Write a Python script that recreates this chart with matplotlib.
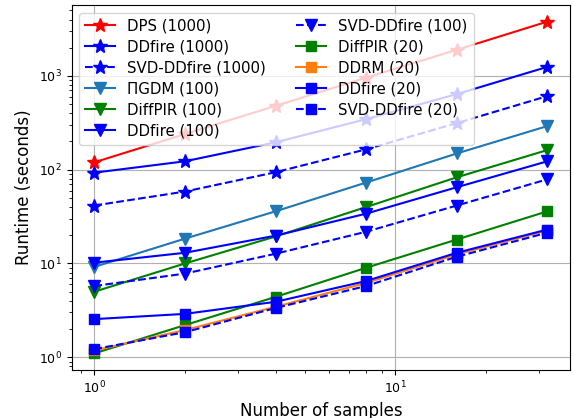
import matplotlib
matplotlib.use('Agg')
import matplotlib.pyplot as plt

# numero de muestras
n_samples = [1, 2, 4, 8, 16, 32]

# tiempos (segundos)
dps_1000 = [120, 240, 480, 960, 1900, 3800]
ddfire_1000 = [93, 123, 196, 346, 640, 1250]
svd_ddfire_1000 = [41.5, 58.5, 94, 165, 314, 610]
pigdm_100 = [9.2, 18.4, 36, 73, 149, 292]
diffpir_100 = [5.0, 10, 19.4, 40, 83, 162]
ddfire_100 = [10.2, 13, 19.8, 34, 65, 123]
svd_ddfire_100 = [5.75, 7.8, 12.7, 21.8, 41.5, 79]
diffpir_20 = [1.1, 2.2, 4.4, 9, 18, 36]
ddrm_20 = [1.18, 1.95, 3.45, 6.2, 12.5, 22.5]
ddfire_20 = [2.55, 2.9, 3.9, 6.5, 13, 23]
svd_ddfire_20 = [1.22, 1.85, 3.35, 5.75, 11.8, 21.3]

fig = plt.figure(figsize=(5.74, 4.18), dpi=100)
ax = fig.add_axes([0.125, 0.115, 0.868, 0.873])

ms = 8
ax.plot(n_samples, dps_1000, '-*', color='red', markersize=ms + 2, label='DPS (1000)')
ax.plot(n_samples, ddfire_1000, '-*', color='blue', markersize=ms + 2, label='DDfire (1000)')
ax.plot(n_samples, svd_ddfire_1000, '--*', color='blue', markersize=ms + 2, label='SVD-DDfire (1000)')
ax.plot(n_samples, pigdm_100, '-v', color='tab:blue', markersize=ms, label='ΠGDM (100)')
ax.plot(n_samples, diffpir_100, '-v', color='green', markersize=ms, label='DiffPIR (100)')
ax.plot(n_samples, ddfire_100, '-v', color='blue', markersize=ms, label='DDfire (100)')
ax.plot(n_samples, svd_ddfire_100, '--v', color='blue', markersize=ms, label='SVD-DDfire (100)')
ax.plot(n_samples, diffpir_20, '-s', color='green', markersize=ms - 1, label='DiffPIR (20)')
ax.plot(n_samples, ddrm_20, '-s', color='tab:orange', markersize=ms - 1, label='DDRM (20)')
ax.plot(n_samples, ddfire_20, '-s', color='blue', markersize=ms - 1, label='DDfire (20)')
ax.plot(n_samples, svd_ddfire_20, '--s', color='blue', markersize=ms - 1, label='SVD-DDfire (20)')

ax.set_xscale('log')
ax.set_yscale('log')
ax.grid(True)
ax.tick_params(labelsize=9)
ax.set_xlabel('Number of samples', fontsize=12)
ax.set_ylabel('Runtime (seconds)', fontsize=12)
ax.legend(ncol=2, loc='upper left', fontsize=10.8, labelspacing=0.4)

fig.savefig('out.png', dpi=100)
